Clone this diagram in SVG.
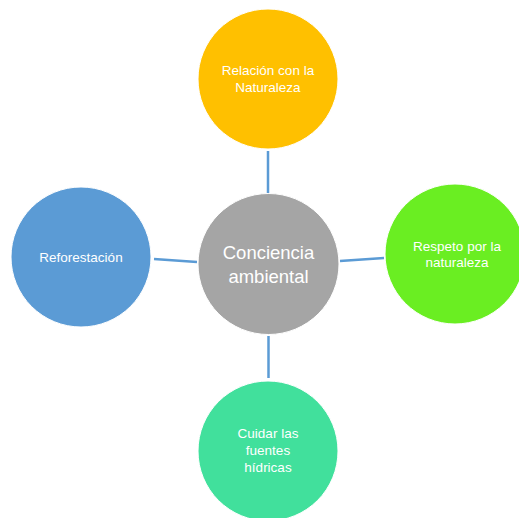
<svg xmlns="http://www.w3.org/2000/svg" width="519" height="518" viewBox="0 0 519 518">
<style>
.c{stroke:#ffffff;stroke-width:1}
.t{font-family:"Liberation Sans",Arial,sans-serif;fill:#ffffff;text-anchor:middle;font-size:13.5px}
.big{font-size:18.5px}
.l{stroke:#5B9BD5;stroke-width:2.5;fill:none}
</style>
<rect width="519" height="518" fill="#ffffff"/>
<g id="connectors">
<line class="l" x1="268" y1="151" x2="268" y2="193"/>
<line class="l" x1="154" y1="259" x2="197" y2="262"/>
<line class="l" x1="340" y1="261" x2="384" y2="258"/>
<line class="l" x1="268.5" y1="336" x2="268.5" y2="378"/>
</g>
<g id="node-top">
<circle class="c" cx="268" cy="79" r="70" fill="#FFC000"/>
<text class="t" x="268" y="75">Relación con la</text>
<text class="t" x="268" y="92">Naturaleza</text>
</g>
<g id="node-left">
<circle class="c" cx="81" cy="257" r="70" fill="#5B9BD5"/>
<text class="t" x="81" y="262">Reforestación</text>
</g>
<g id="node-right">
<circle class="c" cx="455" cy="254" r="70" fill="#6AEE22"/>
<text class="t" x="457" y="251">Respeto por la</text>
<text class="t" x="457" y="267">naturaleza</text>
</g>
<g id="node-bottom">
<circle class="c" cx="268" cy="451" r="70" fill="#41E09C"/>
<text class="t" x="268" y="438">Cuidar las</text>
<text class="t" x="268" y="455">fuentes</text>
<text class="t" x="268" y="472">hídricas</text>
</g>
<g id="node-center">
<circle class="c" cx="268.5" cy="264" r="70.5" fill="#A5A5A5"/>
<text class="t big" x="268.5" y="259">Conciencia</text>
<text class="t big" x="268.5" y="283">ambiental</text>
</g>
</svg>
